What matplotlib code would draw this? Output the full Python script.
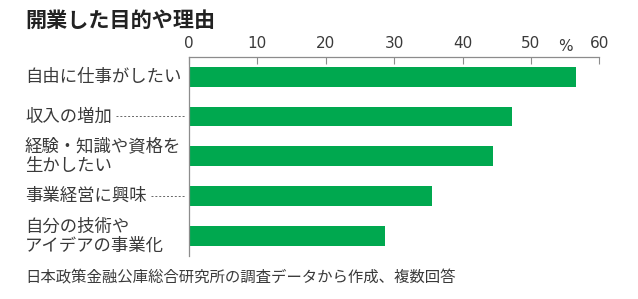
import matplotlib
matplotlib.use("Agg")
import matplotlib.pyplot as plt
from matplotlib.transforms import blended_transform_factory

plt.rcParams["font.family"] = ["Noto Sans CJK JP", "DejaVu Sans"]

# data
labels = ["自由に仕事がしたい", "収入の増加", "経験・知識や資格を\n生かしたい",
          "事業経営に興味", "自分の技術や\nアイデアの事業化"]
values = [56.6, 47.2, 44.5, 35.5, 28.6]
leaders = [False, True, False, True, False]
ticks = [0, 10, 20, 30, 40, 50, 60]

GREEN = "#00a84f"
TXT = "#3a3a3a"
AX = "#8c8c8c"
NUMFONT = ["Liberation Sans Narrow", "DejaVu Sans"]

fig = plt.figure(figsize=(6.38, 2.99), dpi=100)
ax = fig.add_axes([189/638, 1-256/299, (599.3-189)/638, (256-56.7)/299])
ypos = list(range(len(values)))
ax.barh(ypos, values, height=0.5, color=GREEN, zorder=2)
ax.set_xlim(0, 60)
ax.set_ylim(4.5, -0.5)
ax.xaxis.tick_top()
ax.set_xticks(ticks)
ax.set_xticklabels([str(t) for t in ticks], fontsize=11, color=TXT, family=NUMFONT)
ax.tick_params(axis="x", direction="in", length=5, width=0.8, color=AX, pad=4)
ax.set_yticks([])
for s in ["right", "bottom"]:
    ax.spines[s].set_visible(False)
for s in ["top", "left"]:
    ax.spines[s].set_color(AX)
    ax.spines[s].set_linewidth(0.9)
ax.text(55.1, 1.012, "%", transform=ax.get_xaxis_transform(), ha="center",
        va="bottom", fontsize=11, color=TXT, family=NUMFONT)

# category labels at left, aligned with bars
tr = blended_transform_factory(fig.transFigure, ax.transData)
lab_texts = []
for y, lab in zip(ypos, labels):
    t = ax.text(25/638, y, lab, transform=tr, ha="left", va="center",
                fontsize=12.5, color=TXT, linespacing=1.1)
    lab_texts.append(t)

# dotted leaders from label end to the axis
fig.canvas.draw()
r = fig.canvas.get_renderer()
inv = fig.transFigure.inverted()
for t, y, lead in zip(lab_texts, ypos, leaders):
    if not lead:
        continue
    bb = t.get_window_extent(r)
    xs = inv.transform((bb.x1 + 4, 0))[0]
    xe = inv.transform(ax.transAxes.transform((0, 0)))[0] - 3/638
    ax.plot([xs, xe], [y, y], transform=tr, ls=(0, (2, 2)), lw=0.7,
            color="#666666", clip_on=False)

fig.text(25/638, 1-20/299, "開業した目的や理由", ha="left", va="center",
         fontsize=15.2, fontweight="bold", color="#222222")
fig.text(25/638, 1-278/299, "日本政策金融公庫総合研究所の調査データから作成、複数回答",
         ha="left", va="center", fontsize=11.1, color=TXT)

fig.savefig("out.png", dpi=100, facecolor="white")
